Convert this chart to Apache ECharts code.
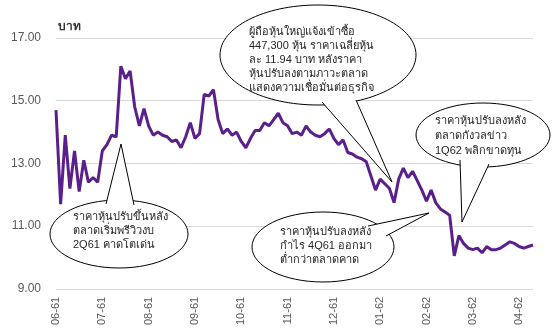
<!DOCTYPE html>
<html><head><meta charset="utf-8">
<script src="https://cdn.jsdelivr.net/npm/echarts@6/dist/echarts.min.js"></script>
<style>html,body{margin:0;padding:0;background:#fff}#c{width:555px;height:328px}</style>
</head><body><div id="c"></div>
<script>
const months = ['06-61','07-61','08-61','09-61','10-61','11-61','12-61','01-62','02-62','03-62','04-62'];
const pointsPerMonth = 10;
const prices = [
14.7,11.7,13.9,12.2,13.4,12.1,13.1,12.4,12.55,12.4,
13.4,13.6,13.9,13.85,16.1,15.7,15.95,14.8,14.2,14.75,
14.2,13.9,14.0,13.9,13.85,13.7,13.75,13.5,13.85,14.3,
13.8,13.95,15.2,15.15,15.35,14.4,13.95,14.1,13.9,14.0,
13.7,13.5,13.8,14.05,14.05,14.3,14.2,14.4,14.6,14.3,
14.2,13.95,14.0,13.9,14.2,14.0,13.9,13.85,13.95,14.1,
13.8,13.6,13.75,13.35,13.3,13.2,13.15,13.05,12.6,12.15,
12.5,12.35,12.2,11.75,12.5,12.85,12.55,12.75,12.45,12.15,
11.8,12.15,11.75,11.55,11.45,11.35,10.05,10.7,10.45,10.3,
10.25,10.3,10.15,10.35,10.25,10.25,10.3,10.4,10.5,10.45,
10.35,10.3,10.35,10.4
];
const yTicks = [9, 11, 13, 15, 17];
const unitLabel = 'บาท';
const notes = [
  ['ราคาหุ้นปรับขึ้นหลัง','ตลาดเริ่มพรีวิวงบ','2Q61 คาดโตเด่น'],
  ['ผู้ถือหุ้นใหญ่แจ้งเข้าซื้อ','447,300 หุ้น ราคาเฉลี่ยหุ้น','ละ 11.94 บาท หลังราคา','หุ้นปรับลงตามภาวะตลาด','แสดงความเชื่อมั่นต่อธุรกิจ'],
  ['ราคาหุ้นปรับลงหลัง','ตลาดกังวลข่าว','1Q62 พลิกขาดทุน'],
  ['ราคาหุ้นปรับลงหลัง','กำไร 4Q61 ออกมา','ต่ำกว่าตลาดคาด']
];

const categories = prices.map((v, i) => months[Math.min(Math.floor(i / pointsPerMonth), months.length - 1)]);

const FONT = '"Liberation Sans", "Noto Sans", sans-serif';

function bubble(cx, cy, rx, ry, tailA, tip, tailB, lines, tx, ty, lh) {
  const els = [];
  els.push({type:'ellipse', shape:{cx:cx, cy:cy, rx:rx, ry:ry}, style:{fill:'#fff', stroke:'#000', lineWidth:1}, z:10});
  els.push({type:'polygon', shape:{points:[tailA, tip, tailB]}, style:{fill:'#fff', stroke:null}, z:11});
  els.push({type:'polyline', shape:{points:[tailA, tip, tailB]}, style:{fill:null, stroke:'#000', lineWidth:1}, z:12});
  lines.forEach((t, k) => {
    els.push({type:'text', x:tx, y:ty + k*lh, style:{text:t, fill:'#262626', font:'11px ' + FONT, textVerticalAlign:'middle'}, z:13});
  });
  return els;
}

const graphics = [].concat(
  bubble(119, 234, 69, 34, [106, 204], [121, 144], [134, 205], notes[0], 73, 217, 14),
  bubble(318, 55, 98, 50, [322, 102], [392, 182], [356, 100], notes[1], 249, 32, 14),
  bubble(483, 135, 67, 32, [460, 160], [462, 222], [489, 164], notes[2], 435, 121, 15),
  bubble(323, 247, 71, 35, [368, 226], [429, 213], [386, 236], notes[3], 280, 232, 14),
  [{type:'text', left:58, top:21, style:{text:unitLabel, fill:'#333', font:'bold 12px ' + FONT}, z:5}]
);

const chart = echarts.init(document.getElementById('c'), null, {renderer:'canvas'});
chart.setOption({
  animation:false,
  grid:{left:56, right:22, top:38, bottom:34, containLabel:false},
  xAxis:{
    type:'category', data:categories, boundaryGap:false,
    axisLine:{show:false}, axisTick:{show:false},
    axisLabel:{interval:pointsPerMonth-1, rotate:90, margin:8, color:'#595959', fontSize:11, fontFamily:FONT}
  },
  yAxis:{
    type:'value', min:yTicks[0], max:yTicks[yTicks.length-1], interval:2,
    axisLine:{show:false}, axisTick:{show:false},
    axisLabel:{formatter:v => v.toFixed(2), margin:15, color:'#595959', fontSize:12, fontFamily:FONT},
    splitLine:{lineStyle:{color:'#d9d9d9', width:1}}
  },
  series:[{type:'line', data:prices, showSymbol:false, lineStyle:{color:'#5b1f8b', width:3}, z:3}],
  graphic:graphics
});
</script></body></html>
